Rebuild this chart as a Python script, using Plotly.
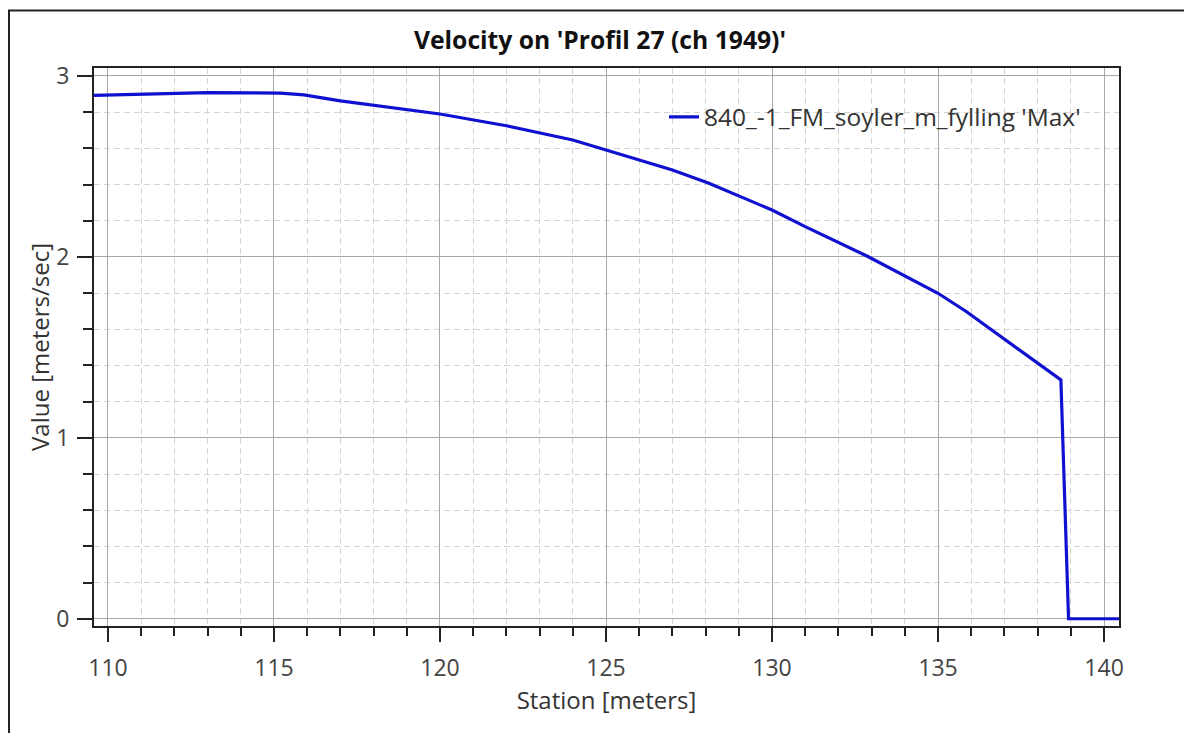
import plotly.graph_objects as go

# Data
station = [109.58, 111.0, 113.0, 115.2, 115.9, 117.0, 119.0, 120.0, 122.0, 124.0,
           125.0, 127.0, 128.1, 130.0, 131.0, 132.9, 135.0, 135.86, 138.7, 138.93, 140.45]
velocity = [2.893, 2.900, 2.908, 2.905, 2.895, 2.862, 2.812, 2.790, 2.725, 2.646,
            2.591, 2.480, 2.407, 2.259, 2.167, 2.001, 1.799, 1.697, 1.320, 0.0, 0.0]
series_name = "840_-1_FM_soyler_m_fylling 'Max'"
title_text = "Velocity on 'Profil 27 (ch 1949)'"
x_title = "Station [meters]"
y_title = "Value [meters/sec]"
x_ticks = [110, 115, 120, 125, 130, 135, 140]
y_ticks = [0, 1, 2, 3]

# page body has an 8px margin, so the figure is drawn 8px in and 8px down
OFF = 8
W, H = 1192 - OFF, 733 - OFF
L, R, T, B = 94 - OFF, 73, 68 - OFF, 107
pw, ph = W - L - R, H - T - B

def px_x(p):  # p: x pixel in the reference picture
    return (p - OFF - L) / pw

def px_y(p):  # p: y pixel in the reference picture
    return (H - B - (p - OFF)) / ph

FONT = "Open Sans"
fig = go.Figure()
fig.add_trace(go.Scatter(
    x=station, y=velocity, mode="lines", name=series_name,
    line=dict(color="#1010d0", width=3.2),
))

axis_common = dict(
    showline=True, linecolor="#222222", linewidth=2, mirror=True,
    ticks="outside", tickcolor="#222222", tickwidth=2,
    showgrid=True, gridcolor="#a8a8a8", gridwidth=1,
    zeroline=False,
    tickfont=dict(family=FONT, size=23, color="#444444"),
)

fig.update_xaxes(
    **axis_common,
    range=[109.58, 140.45], tickvals=x_ticks, ticklen=14, ticklabelstandoff=6,
    title=dict(text=x_title, font=dict(family=FONT, size=24, color="#333333"), standoff=10),
    minor=dict(dtick=1, tick0=110, ticks="outside", ticklen=8, tickwidth=2, tickcolor="#222222",
               showgrid=True, gridcolor="#d4d4d4", griddash="6px,4px", gridwidth=1),
)
fig.update_yaxes(
    **axis_common,
    range=[-0.04, 3.044], tickvals=y_ticks, ticklen=15, ticklabelstandoff=3,
    title=dict(text=y_title, font=dict(family=FONT, size=24, color="#333333"), standoff=0),
    minor=dict(dtick=0.2, tick0=0, ticks="outside", ticklen=9, tickwidth=2, tickcolor="#222222",
               showgrid=True, gridcolor="#d4d4d4", griddash="6px,4px", gridwidth=1),
)

fig.update_layout(
    width=W, height=H,
    margin=dict(l=L, r=R, t=T, b=B, autoexpand=False),
    paper_bgcolor="white", plot_bgcolor="white",
    title=dict(text=title_text, x=px_x(606.5), xanchor="center", y=1 - (40 - OFF) / H, yanchor="middle",
               font=dict(family=FONT, size=24.7, color="#111111", weight=700)),
    showlegend=True,
    legend=dict(x=px_x(664), xanchor="left", y=px_y(117), yanchor="middle",
                bgcolor="rgba(0,0,0,0)", borderwidth=0,
                font=dict(family=FONT, size=24.5, color="#333333")),
    shapes=[
        dict(type="line", xref="paper", yref="paper", x0=px_x(8), x1=px_x(1200), y0=px_y(10.5), y1=px_y(10.5),
             line=dict(color="#222222", width=2)),
        dict(type="line", xref="paper", yref="paper", x0=px_x(9), x1=px_x(9), y0=px_y(10), y1=px_y(740),
             line=dict(color="#222222", width=2)),
    ],
)

fig.write_html("out.html")
